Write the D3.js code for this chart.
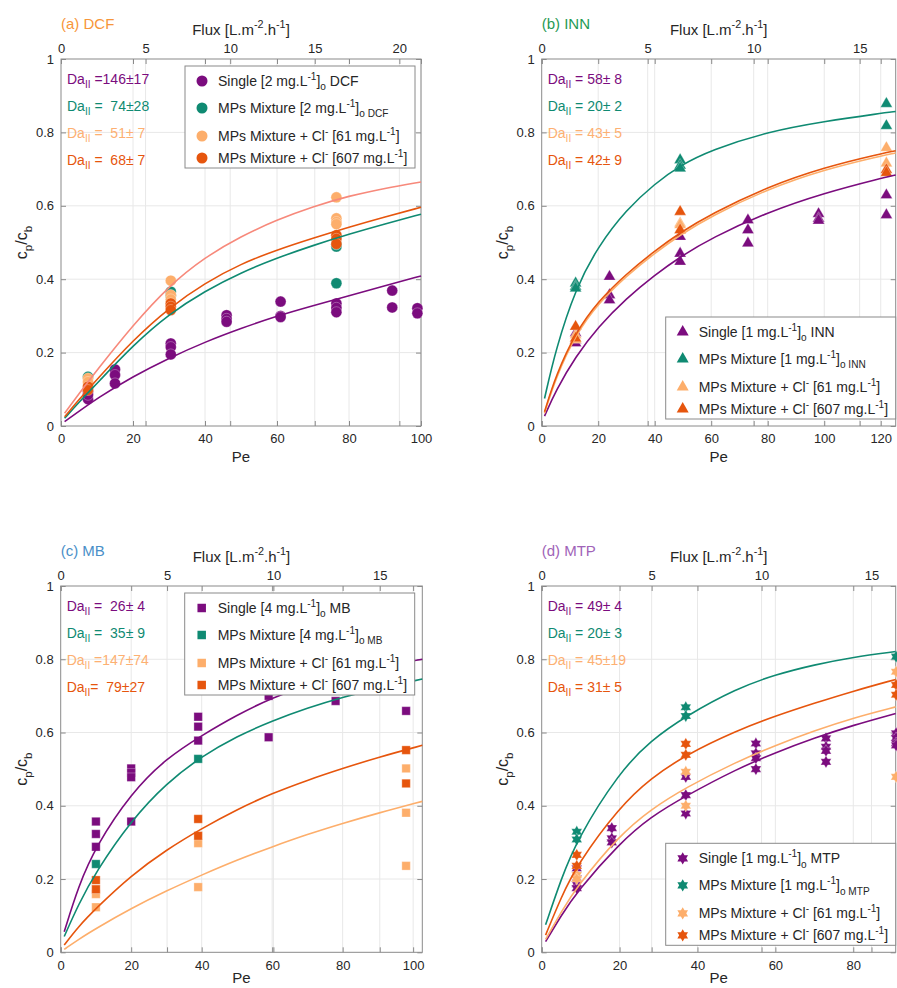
<!DOCTYPE html>
<html>
<head>
<meta charset="utf-8">
<script src="https://cdn.jsdelivr.net/npm/d3@7"></script>
<style>
  body { margin: 0; background: #fff; }
  text { font-family: "Liberation Sans", Arial, Helvetica, sans-serif; fill: #262626; }
</style>
</head>
<body>
<div id="chart"></div>
<script>
// Colors of the four series
const purple = "#7b0c7e"
const teal = "#0f8a72"
const light = "#fdae6b"
const orange = "#e6550d"
const salmon = "#f7897b"

// ---------- (a) DCF : measured points [Pe, cp/cb] ----------
const dcfSingle = [[7.5,0.093],[7.5,0.073],[7.5,0.085],[15,0.154],[15,0.139],[15,0.116],[30.5,0.225],[30.5,0.215],[30.5,0.195],
  [46,0.302],[46,0.292],[46,0.284],[61,0.339],[61,0.300],[61,0.297],[76.5,0.334],[76.5,0.322],[76.5,0.310],[92,0.369],[92,0.323],[99,0.321],[99,0.307]]
const dcfMix = [[7.5,0.134],[30.5,0.366],[30.5,0.355],[76.5,0.389],[76.5,0.489],[76.5,0.495]]
const dcfCl61 = [[7.5,0.130],[7.5,0.120],[30.5,0.396],[30.5,0.357],[30.5,0.345],[76.5,0.623],[76.5,0.566],[76.5,0.556],[76.5,0.550]]
const dcfCl607 = [[7.5,0.107],[7.5,0.098],[30.5,0.334],[30.5,0.325],[30.5,0.316],[76.5,0.520],[76.5,0.510],[76.5,0.496]]
// fitted curves
const dcfCurvePe = [1, 5, 10, 20, 30, 40, 50, 60, 70, 80, 90, 100]
const dcfFitSingle = [0.012, 0.040, 0.075, 0.135, 0.185, 0.229, 0.266, 0.300, 0.328, 0.355, 0.382, 0.409]
const dcfFitMix = [0.021, 0.065, 0.116, 0.220, 0.305, 0.368, 0.418, 0.458, 0.492, 0.523, 0.551, 0.577]
const dcfFitCl61 = [0.035, 0.088, 0.152, 0.275, 0.382, 0.460, 0.517, 0.562, 0.598, 0.627, 0.648, 0.665]
const dcfFitCl607 = [0.025, 0.072, 0.127, 0.234, 0.322, 0.390, 0.442, 0.480, 0.512, 0.542, 0.570, 0.596]
const dcfDa = [" =146±17", " =  74±28", " =  51± 7", " =  68± 7"]

// ---------- (b) INN ----------
const innSingle = [[12,0.253],[12,0.234],[12,0.226],[24,0.407],[24,0.357],[24,0.343],[49,0.516],[49,0.470],[49,0.448],
  [73,0.561],[73,0.534],[73,0.498],[98,0.578],[98,0.565],[98,0.560],[122,0.629],[122,0.575]]
const innMix = [[12,0.389],[12,0.380],[12,0.375],[49,0.725],[49,0.710],[49,0.702],[122,0.878],[122,0.818]]
const innCl61 = [[12,0.248],[12,0.235],[49,0.552],[49,0.548],[122,0.758],[122,0.716]]
const innCl607 = [[12,0.271],[12,0.239],[49,0.584],[49,0.534],[122,0.698],[122,0.690]]
const innCurvePe = [1, 5, 12, 20, 30, 40, 49, 60, 80, 100, 120, 125.3]
const innFitSingle = [0.027, 0.097, 0.189, 0.270, 0.348, 0.411, 0.461, 0.512, 0.583, 0.635, 0.675, 0.684]
const innFitMix = [0.075, 0.210, 0.375, 0.490, 0.590, 0.660, 0.710, 0.752, 0.802, 0.830, 0.852, 0.857]
const innFitCl61 = [0.035, 0.132, 0.249, 0.334, 0.409, 0.471, 0.521, 0.572, 0.646, 0.699, 0.736, 0.744]
const innFitCl607 = [0.039, 0.138, 0.255, 0.340, 0.415, 0.477, 0.527, 0.578, 0.652, 0.705, 0.742, 0.750]
const innDa = [" = 58± 8", " = 20± 2", " = 43± 5", " = 42± 9"]

// ---------- (c) MB ----------
const mbSingle = [[10,0.357],[10,0.323],[10,0.288],[20,0.502],[20,0.490],[20,0.478],[20,0.357],[39,0.643],[39,0.616],[39,0.578],
  [59,0.700],[59,0.587],[78,0.686],[98,0.659]]
const mbMix = [[10,0.241],[39,0.528],[98,0.718]]
const mbCl61 = [[10,0.159],[10,0.123],[39,0.298],[39,0.178],[98,0.502],[98,0.381],[98,0.236]]
const mbCl607 = [[10,0.197],[10,0.172],[39,0.364],[39,0.318],[98,0.552],[98,0.461]]
const mbCurvePe = [1, 5, 10, 20, 30, 40, 50, 60, 70, 80, 90, 102.6]
const mbFitSingle = [0.056, 0.180, 0.290, 0.435, 0.530, 0.592, 0.648, 0.695, 0.730, 0.757, 0.779, 0.800]
const mbFitMix = [0.043, 0.130, 0.220, 0.360, 0.462, 0.535, 0.590, 0.632, 0.667, 0.697, 0.720, 0.746]
const mbFitCl61 = [0.008, 0.035, 0.065, 0.120, 0.168, 0.211, 0.252, 0.288, 0.322, 0.352, 0.380, 0.412]
const mbFitCl607 = [0.020, 0.070, 0.120, 0.210, 0.280, 0.338, 0.390, 0.434, 0.470, 0.502, 0.532, 0.565]
const mbDa = [" =  26± 4", " =  35± 9", " =147±74", "=  79±27"]

// ---------- (d) MTP ----------
const mtpSingle = [[9,0.229],[9,0.202],[9,0.186],[9,0.175],[18,0.339],[18,0.311],[18,0.300],[37,0.479],[37,0.429],[37,0.379],
  [55,0.570],[55,0.543],[55,0.530],[55,0.500],[73,0.584],[73,0.561],[73,0.550],[73,0.520],[91,0.598],[91,0.585],[91,0.571],[91,0.565]]
const mtpMix = [[9,0.329],[9,0.308],[37,0.669],[37,0.645],[91,0.807]]
const mtpCl61 = [[9,0.211],[9,0.200],[37,0.493],[37,0.400],[91,0.766],[91,0.479]]
const mtpCl607 = [[9,0.266],[9,0.236],[37,0.569],[37,0.539],[91,0.730],[91,0.703]]
const mtpCurvePe = [1, 5, 9, 20, 28, 37, 50, 60, 70, 80, 90.9]
const mtpFitSingle = [0.029, 0.100, 0.165, 0.298, 0.370, 0.427, 0.500, 0.545, 0.585, 0.620, 0.652]
const mtpFitMix = [0.075, 0.200, 0.307, 0.493, 0.578, 0.645, 0.720, 0.758, 0.785, 0.806, 0.821]
const mtpFitCl61 = [0.035, 0.110, 0.179, 0.320, 0.390, 0.450, 0.520, 0.565, 0.605, 0.640, 0.670]
const mtpFitCl607 = [0.047, 0.150, 0.238, 0.397, 0.475, 0.539, 0.605, 0.645, 0.680, 0.713, 0.745]
const mtpDa = [" = 49± 4", " = 20± 3", " = 45±19", " = 31± 5"]

const yTicks = [0, 0.2, 0.4, 0.6, 0.8, 1]

// Six-pointed star marker (MATLAB hexagram)
const symbolHexagram = {
  draw(context, size) {
    const R = Math.sqrt(size), r = R / Math.sqrt(3)
    for (let i = 0; i < 12; i++) {
      const a = -Math.PI / 2 + i * Math.PI / 6
      const rad = i % 2 ? r : R
      i ? context.lineTo(rad * Math.cos(a), rad * Math.sin(a)) : context.moveTo(rad * Math.cos(a), rad * Math.sin(a))
    }
    context.closePath()
  }
}

const panels = [
  { title: "(a) DCF", titleColor: "#f7963a", left: 61, top: 59, width: 360, height: 367,
    peMax: 100, fluxMax: 21.28, peTicks: [0,20,40,60,80,100], fluxTicks: [0,5,10,15,20],
    symbol: d3.symbolCircle, symbolSize: 95, compound: "DCF", dose: "2",
    points: [dcfSingle, dcfMix, dcfCl61, dcfCl607], curvePe: dcfCurvePe,
    curves: [dcfFitSingle, dcfFitMix, dcfFitCl61, dcfFitCl607], curveColors: [purple, teal, salmon, orange],
    da: dcfDa, legendTop: true },
  { title: "(b) INN", titleColor: "#1f9a55", left: 541.7, top: 59, width: 354, height: 367,
    peMax: 125.3, fluxMax: 16.7, peTicks: [0,20,40,60,80,100,120], fluxTicks: [0,5,10,15],
    symbol: d3.symbolTriangle, symbolSize: 62, compound: "INN", dose: "1",
    points: [innSingle, innMix, innCl61, innCl607], curvePe: innCurvePe,
    curves: [innFitSingle, innFitMix, innFitCl61, innFitCl607], curveColors: [purple, teal, light, orange],
    da: innDa, legendTop: false },
  { title: "(c) MB", titleColor: "#4a8fc8", left: 60.7, top: 586, width: 361.6, height: 366.3,
    peMax: 102.6, fluxMax: 17.0, peTicks: [0,20,40,60,80,100], fluxTicks: [0,5,10,15],
    symbol: d3.symbolSquare, symbolSize: 72, compound: "MB", dose: "4",
    points: [mbSingle, mbMix, mbCl61, mbCl607], curvePe: mbCurvePe,
    curves: [mbFitSingle, mbFitMix, mbFitCl61, mbFitCl607], curveColors: [purple, teal, light, orange],
    da: mbDa, legendTop: true },
  { title: "(d) MTP", titleColor: "#a063b8", left: 541.7, top: 586, width: 354, height: 366.3,
    peMax: 90.9, fluxMax: 16.1, peTicks: [0,20,40,60,80], fluxTicks: [0,5,10,15],
    symbol: symbolHexagram, symbolSize: 38, compound: "MTP", dose: "1",
    points: [mtpSingle, mtpMix, mtpCl61, mtpCl607], curvePe: mtpCurvePe,
    curves: [mtpFitSingle, mtpFitMix, mtpFitCl61, mtpFitCl607], curveColors: [purple, teal, light, orange],
    da: mtpDa, legendTop: false }
]
const seriesColors = [purple, teal, light, orange]

const svg = d3.select("#chart").append("svg")
  .attr("width", 897)
  .attr("height", 988)

// writes text made of normal / superscript / subscript pieces
function richText(sel, parts, fs) {
  let shift = 0
  parts.forEach(([str, kind]) => {
    const target = kind === "sup" ? -0.42 * fs : kind === "sub" ? 0.32 * fs : 0
    sel.append("tspan")
      .attr("dy", target - shift)
      .attr("font-size", kind === "n" ? fs : fs * 0.72)
      .text(str)
    shift = target
  })
  return sel
}

function legendParts(p, i) {
  if (i === 0) return [["Single [" + p.dose + " mg.L", "n"], ["-1", "sup"], ["]", "n"], ["o", "sub"], [" " + p.compound, "n"]]
  if (i === 1) return [["MPs Mixture [" + p.dose + " mg.L", "n"], ["-1", "sup"], ["]", "n"], ["o " + p.compound, "sub"]]
  const c = i === 2 ? "61" : "607"
  return [["MPs Mixture + Cl", "n"], ["-", "sup"], [" [" + c + " mg.L", "n"], ["-1", "sup"], ["]", "n"]]
}

panels.forEach(p => {
  const g = svg.append("g").attr("transform", `translate(${p.left}, ${p.top})`)
  const x = d3.scaleLinear().domain([0, p.peMax]).range([0, p.width])
  const xf = d3.scaleLinear().domain([0, p.fluxMax]).range([0, p.width])
  const y = d3.scaleLinear().domain([0, 1]).range([p.height, 0])

  // grid
  const grid = g.append("g").attr("stroke", "#e8e8e8").attr("stroke-width", 1)
  p.peTicks.filter(t => t > 0).forEach(t => grid.append("line").attr("x1", x(t)).attr("x2", x(t)).attr("y1", 0).attr("y2", p.height))
  p.fluxTicks.filter(t => t > 0).forEach(t => grid.append("line").attr("x1", xf(t)).attr("x2", xf(t)).attr("y1", 0).attr("y2", p.height))
  yTicks.filter(t => t > 0 && t < 1).forEach(t => grid.append("line").attr("x1", 0).attr("x2", p.width).attr("y1", y(t)).attr("y2", y(t)))

  // axes (ticks inward, MATLAB style)
  const axisStyle = sel => {
    sel.select(".domain").remove()
    sel.selectAll(".tick line").attr("stroke", "#8a8a8a")
    sel.selectAll("text").attr("font-size", 13).attr("fill", "#262626")
      .attr("font-family", "Liberation Sans, Arial, sans-serif")
  }
  g.append("g").attr("transform", `translate(0, ${p.height})`)
    .call(d3.axisBottom(x).tickValues(p.peTicks).tickSizeInner(-5).tickSizeOuter(0).tickPadding(8).tickFormat(d3.format("d")))
    .call(axisStyle)
  g.append("g").call(d3.axisTop(x).tickValues(p.peTicks).tickSizeInner(-5).tickSizeOuter(0).tickFormat(""))
    .call(axisStyle)
  g.append("g").call(d3.axisTop(xf).tickValues(p.fluxTicks).tickSizeInner(-5).tickSizeOuter(0).tickPadding(6.5).tickFormat(d3.format("d")))
    .call(axisStyle)
  g.append("g").attr("transform", `translate(0, ${p.height})`)
    .call(d3.axisBottom(xf).tickValues(p.fluxTicks).tickSizeInner(-5).tickSizeOuter(0).tickFormat(""))
    .call(axisStyle)
  g.append("g").call(d3.axisLeft(y).tickValues(yTicks).tickSizeInner(-5).tickSizeOuter(0).tickPadding(7).tickFormat(d3.format("~g")))
    .call(axisStyle)
  g.append("g").attr("transform", `translate(${p.width}, 0)`)
    .call(d3.axisRight(y).tickValues(yTicks).tickSizeInner(-5).tickSizeOuter(0).tickFormat(""))
    .call(axisStyle)

  g.append("rect").attr("width", p.width).attr("height", p.height)
    .attr("fill", "none").attr("stroke", "#8a8a8a").attr("stroke-width", 1)

  // measured points
  const sym = d3.symbol().type(p.symbol).size(p.symbolSize)
  p.points.forEach((pts, i) => {
    g.append("g").selectAll("path")
      .data(pts)
      .enter()
      .append("path")
      .attr("d", sym)
      .attr("transform", d => `translate(${x(d[0])}, ${y(d[1])})`)
      .attr("fill", seriesColors[i])
      .attr("stroke", "#fff").attr("stroke-width", 0.5).attr("stroke-opacity", 0.6)
  })

  // fitted curves
  const line = d3.line().x(d => x(d[0])).y(d => y(d[1])).curve(d3.curveBasis)
  p.curves.forEach((vals, i) => {
    g.append("path")
      .datum(p.curvePe.map((pe, k) => [pe, vals[k]]))
      .attr("fill", "none")
      .attr("stroke", p.curveColors[i])
      .attr("stroke-width", 1.6)
      .attr("d", line)
  })

  // Da_II annotations
  p.da.forEach((s, i) => {
    const t = g.append("text")
      .attr("x", 6).attr("y", 25 + i * 27)
      .attr("xml:space", "preserve").style("white-space", "pre")
    richText(t, [["Da", "n"], ["II", "sub"], [s, "n"]], 14)
    t.selectAll("tspan").style("fill", i === 2 ? "#fdb072" : seriesColors[i])
  })

  // legend
  const lx = 124, ly = p.legendTop ? 7 : p.height - 109
  const leg = g.append("g").attr("transform", `translate(${lx}, ${ly})`)
  leg.append("rect").attr("width", 230).attr("height", 102)
    .attr("fill", "#fff").attr("stroke", "#8a8a8a").attr("stroke-width", 1)
  const rows = [15, 42, 70, 92]
  rows.forEach((ry, i) => {
    leg.append("path").attr("d", sym).attr("transform", `translate(17, ${ry})`).attr("fill", seriesColors[i])
    const t = leg.append("text").attr("x", 33).attr("y", ry + 5).attr("xml:space", "preserve").style("white-space", "pre")
    richText(t, legendParts(p, i), 14)
  })

  // titles and axis labels
  g.append("text").attr("x", 0).attr("y", -30.5).attr("font-size", 15)
    .style("fill", p.titleColor).text(p.title)
  richText(g.append("text").attr("x", p.width / 2).attr("y", -24.5).attr("text-anchor", "middle"),
    [["Flux [L.m", "n"], ["-2", "sup"], [".h", "n"], ["-1", "sup"], ["]", "n"]], 15)
  // keep the bottom-row "Pe" inside the page
  g.append("text").attr("x", p.width / 2).attr("y", Math.min(p.height + 36, 983 - p.top)).attr("text-anchor", "middle")
    .attr("font-size", 15).text("Pe")
  richText(g.append("text").attr("text-anchor", "middle")
    .attr("transform", `translate(-34, ${p.height / 2}) rotate(-90)`),
    [["c", "n"], ["p", "sub"], ["/c", "n"], ["b", "sub"]], 16)
})
</script>
</body>
</html>
